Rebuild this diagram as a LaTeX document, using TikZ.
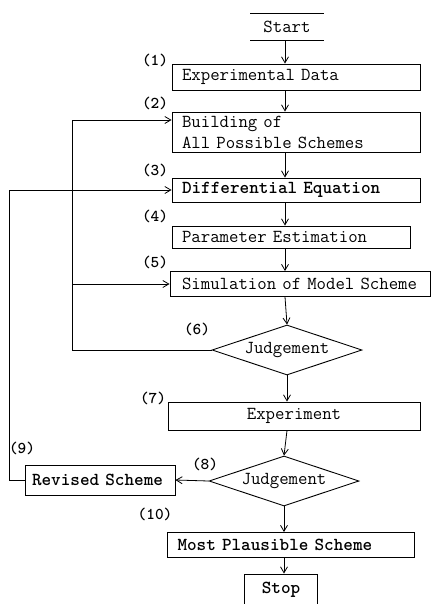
\documentclass[tikz,border=0pt]{standalone}
\usetikzlibrary{shapes.geometric,arrows.meta}
\newcommand{\typewr}{\ttfamily\fontsize{18.3}{21}\selectfont}
\tikzset{
  stepbox/.style={draw, line width=0.9pt, inner xsep=10pt, inner ysep=2pt, align=left, text width=#1},
  judge/.style={draw, diamond, line width=0.9pt, aspect=3, inner sep=0pt, minimum width=150pt, minimum height=50pt},
  arr/.style={-{Straight Barb[length=6pt,width=7pt]}, line width=0.8pt},
  lbl/.style={font=\ttfamily\bfseries\fontsize{16.5}{18}\selectfont, inner sep=0pt},
  boldtext/.style={font=\typewr\bfseries}
}
\begin{document}
\begin{tikzpicture}[x=1pt,y=-1pt, font=\typewr]
	\useasboundingbox[fill=white] (0,0) rectangle (435,604);
	\coordinate (spine) at (285,0);
	\coordinate (inner) at (72,0);
	\coordinate (outer) at (9,0);
	% start has only top and bottom rule
	\node[minimum width=73pt, minimum height=27pt] (start) at (287,27) {Start};
	\draw[line width=0.9pt] (start.north west) -- (start.north east) (start.south west) -- (start.south east);
	\node[stepbox=228pt, minimum height=26pt] (data) at (296,77) {Experimental Data};
	\node[stepbox=228pt, minimum height=40pt] (build) at (296,132) {Building of\\All Possible Schemes};
	\node[stepbox=228pt, minimum height=24pt, boldtext] (diffeq) at (296,190) {Differential Equation};
	\node[stepbox=218pt, minimum height=22pt] (param) at (291,237) {Parameter Estimation};
	\node[stepbox=260pt, inner xsep=0pt, minimum height=25pt] (simul) at (300,284) {\hspace*{12pt}Simulation of Model Scheme};
	\node[judge] (judgeA) at (287,350) {Judgement};
	\node[stepbox=232pt, align=center, minimum height=28pt] (expt) at (294,416) {Experiment};
	\node[judge] (judgeB) at (284,481) {Judgement};
	\node[stepbox=136pt, inner xsep=7pt, minimum height=30pt, boldtext] (revised) at (100,480) {Revised Scheme};
	\node[stepbox=227pt, minimum height=25pt, boldtext] (best) at (291,545) {Most Plausible Scheme};
	\node[draw, line width=0.9pt, minimum width=73pt, minimum height=32pt, boldtext] (stop) at (281,590) {Stop};
	% step numbers
	\node[lbl] (n1) at (155,60) {(1)};
	\node[lbl] (n2) at (155,103) {(2)};
	\node[lbl] (n3) at (155,170) {(3)};
	\node[lbl] (n4) at (155,216) {(4)};
	\node[lbl] (n5) at (155,262) {(5)};
	\node[lbl] (n6) at (197,329) {(6)};
	\node[lbl] (n7) at (153,398) {(7)};
	\node[lbl] (n8) at (205,464) {(8)};
	\node[lbl] (n9) at (22,448) {(9)};
	\node[lbl] (n10) at (155,514) {(10)};
	% main flow
	\draw[arr] (spine |- start.south) -- (spine |- data.north);
	\draw[arr] (spine |- data.south) -- (spine |- build.north);
	\draw[arr] (spine |- build.south) -- (spine |- diffeq.north);
	\draw[arr] (spine |- diffeq.south) -- (spine |- param.north);
	\draw[arr] (spine |- param.south) -- (spine |- simul.north);
	\draw[arr] (spine |- simul.south) -- (judgeA.north);
	\draw[arr] (judgeA.south) -- (judgeA.south |- expt.north);
	\draw[arr] (judgeA.south |- expt.south) -- (judgeB.north);
	\draw[arr] (judgeB.south) -- (judgeB.south |- best.north);
	\draw[arr] (judgeB.south |- best.south) -- (judgeB.south |- stop.north);
	% feedback loops
	\draw[arr] (judgeA.west) -- (judgeA.west -| inner) |- ([yshift=12pt]build.west);
	\draw[arr] (inner |- simul.west) -- (simul.west);
	\draw[arr] (judgeB.west) -- (revised.east);
	\draw[arr] (revised.west) -- (revised.west -| outer) |- (diffeq.west);
\end{tikzpicture}
\end{document}
